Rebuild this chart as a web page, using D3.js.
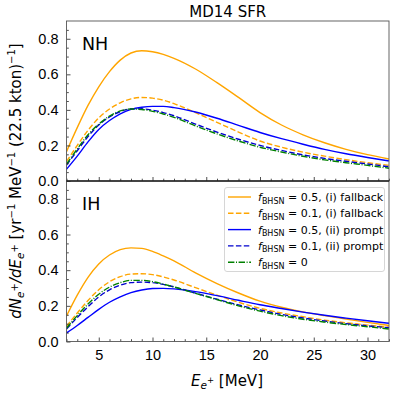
<!DOCTYPE html>
<html><head><meta charset="utf-8">
<script src="https://cdn.jsdelivr.net/npm/d3@7"></script>
<style>body{margin:0;background:#fff}svg{font-family:"DejaVu Sans",sans-serif}</style>
</head><body><svg id="c" width="395" height="396"></svg>
<script>
const energies = [2,3,4,5,6,7,8,9,10,11,12,14,16,18,20,22,24,26,28,30,32];
// NH panel series
const nhFallback05 = [0.165,0.3,0.425,0.53,0.615,0.68,0.72,0.733,0.727,0.712,0.69,0.63,0.553,0.47,0.385,0.315,0.26,0.215,0.178,0.148,0.124];
const nhFallback01 = [0.11,0.20,0.285,0.355,0.405,0.44,0.462,0.47,0.466,0.455,0.435,0.385,0.33,0.275,0.225,0.19,0.162,0.14,0.12,0.103,0.088];
const nhPrompt05   = [0.066,0.14,0.22,0.29,0.34,0.378,0.403,0.415,0.42,0.42,0.413,0.388,0.353,0.313,0.273,0.238,0.207,0.178,0.153,0.132,0.113];
const nhPrompt01   = [0.09,0.17,0.25,0.315,0.36,0.39,0.405,0.406,0.398,0.385,0.367,0.32,0.275,0.235,0.2,0.172,0.147,0.127,0.111,0.096,0.08];
const nhZero       = [0.095,0.18,0.26,0.32,0.365,0.394,0.405,0.402,0.392,0.377,0.358,0.31,0.265,0.225,0.19,0.163,0.139,0.119,0.103,0.088,0.072];
// IH panel series
const ihFallback05 = [0.143,0.26,0.36,0.435,0.485,0.515,0.525,0.522,0.505,0.48,0.452,0.385,0.325,0.272,0.226,0.192,0.166,0.145,0.126,0.107,0.09];
const ihFallback01 = [0.085,0.16,0.23,0.29,0.335,0.364,0.378,0.38,0.375,0.362,0.345,0.302,0.26,0.22,0.186,0.16,0.139,0.12,0.105,0.092,0.08];
const ihPrompt05   = [0.048,0.09,0.135,0.18,0.22,0.25,0.274,0.289,0.297,0.298,0.295,0.28,0.257,0.231,0.206,0.185,0.165,0.147,0.131,0.116,0.102];
const ihPrompt01   = [0.07,0.135,0.195,0.25,0.29,0.316,0.33,0.333,0.33,0.32,0.306,0.271,0.237,0.205,0.177,0.152,0.132,0.115,0.1,0.088,0.077];
const ihZero       = [0.075,0.145,0.21,0.265,0.305,0.33,0.343,0.343,0.336,0.322,0.306,0.27,0.235,0.2,0.17,0.145,0.125,0.109,0.095,0.083,0.07];

const xTicks = [5,10,15,20,25,30];
const yTicks = [0,0.2,0.4,0.6,0.8];
const legendLabels = ["0.5, (i) fallback","0.1, (i) fallback","0.5, (ii) prompt","0.1, (ii) prompt","0"];
const panels = [
  {name:"NH", series:[nhFallback05,nhFallback01,nhPrompt05,nhPrompt01,nhZero]},
  {name:"IH", series:[ihFallback05,ihFallback01,ihPrompt05,ihPrompt01,ihZero]}
];
const styles = [
  {color:"#ffa500", dash:null},
  {color:"#ffa500", dash:"5.5,2.4"},
  {color:"#0000ff", dash:null},
  {color:"#0000cd", dash:"5.5,2.4"},
  {color:"#008000", dash:"6.4,1.6,1,1.6"}
];

const svg = d3.select("#c");
const L = 66.5, R = 389, T = 21, M = 181, B = 341.5;
const x = d3.scaleLinear().domain([2,32]).range([L,R]);
const yRanges = [[M,T],[B,M]];

svg.append("text").attr("x",(L+R)/2).attr("y",17).attr("text-anchor","middle")
  .attr("font-size",15).text("MD14 SFR");

panels.forEach((p,i)=>{
  const y = d3.scaleLinear().domain([0,0.9]).range(yRanges[i]);
  const g = svg.append("g");
  g.append("defs").append("clipPath").attr("id","clip"+i).append("rect")
    .attr("x",L).attr("y",yRanges[i][1]).attr("width",R-L).attr("height",yRanges[i][0]-yRanges[i][1]);
  const line = d3.line().x((d,j)=>x(energies[j])).y(d=>y(d)).curve(d3.curveMonotoneX);
  p.series.forEach((s,k)=>{
    g.append("path").attr("d",line(s)).attr("fill","none")
      .attr("stroke",styles[k].color).attr("stroke-width",1.4)
      .attr("stroke-dasharray",styles[k].dash).attr("clip-path","url(#clip"+i+")");
  });
  const xa = d3.axisBottom(x).tickValues(xTicks).tickSizeInner(-4).tickSizeOuter(0)
    .tickFormat(i===1? d3.format("d") : "");
  const xg = g.append("g").attr("transform",`translate(0,${yRanges[i][0]})`).call(xa);
  xg.select(".domain").remove();
  xg.selectAll("text").attr("font-size",14.5).attr("fill","#000").attr("dy","1.05em").attr("y",3);
  const xm = d3.axisBottom(x).tickValues(d3.range(2,33,1).filter(v=>v%5!==0)).tickSizeInner(-2.3).tickSizeOuter(0).tickFormat("");
  const xmg = g.append("g").attr("transform",`translate(0,${yRanges[i][0]})`).call(xm);
  xmg.select(".domain").remove();
  const ya = d3.axisLeft(y).tickValues(yTicks).tickSizeInner(-4).tickSizeOuter(0).tickFormat(d3.format(".1f"));
  const yg = g.append("g").attr("transform",`translate(${L},0)`).call(ya);
  yg.select(".domain").remove();
  yg.selectAll("text").attr("font-size",14.5).attr("fill","#000").attr("x",-8);
  const ym = d3.axisLeft(y).tickValues(d3.range(0.05,0.9,0.05).filter((v,j)=>(j%4)!==3)).tickSizeInner(-2.3).tickSizeOuter(0).tickFormat("");
  const ymg = g.append("g").attr("transform",`translate(${L},0)`).call(ym);
  ymg.select(".domain").remove();
  g.selectAll(".tick line").attr("stroke","#222").attr("stroke-width",0.8);
  g.append("rect").attr("x",L).attr("y",yRanges[i][1]).attr("width",R-L).attr("height",yRanges[i][0]-yRanges[i][1])
    .attr("fill","none").attr("stroke","#555").attr("stroke-width",0.9);
  g.append("text").attr("x",82).attr("y",yRanges[i][1]+29).attr("font-size",17.5).text(p.name);
});
svg.append("line").attr("x1",L).attr("x2",R).attr("y1",M).attr("y2",M).attr("stroke","#000").attr("stroke-width",1.1);

const lg = svg.append("g");
lg.append("rect").attr("x",224.5).attr("y",187.5).attr("width",160).attr("height",84).attr("rx",2.5)
  .attr("fill","#fff").attr("fill-opacity",0.8).attr("stroke","#ccc").attr("stroke-width",0.8);
legendLabels.forEach((t,k)=>{
  const yy = 197 + k*16.3;
  lg.append("line").attr("x1",228).attr("x2",251).attr("y1",yy).attr("y2",yy)
    .attr("stroke",styles[k].color).attr("stroke-width",1.4).attr("stroke-dasharray",styles[k].dash);
  const tx = lg.append("text").attr("x",258).attr("y",yy+4).attr("font-size",11);
  tx.append("tspan").attr("font-style","italic").text("f");
  tx.append("tspan").attr("font-size",8).attr("dy",2.5).text("BHSN");
  tx.append("tspan").attr("dy",-2.5).text(" = " + t);
});

const xl = svg.append("text").attr("x",227).attr("y",386).attr("text-anchor","middle").attr("font-size",15);
xl.append("tspan").attr("font-style","italic").text("E");
xl.append("tspan").attr("font-style","italic").attr("font-size",10.5).attr("dy",3).text("e");
xl.append("tspan").attr("font-size",8.5).attr("dy",-6).text("+");
xl.append("tspan").attr("dy",3).text("  [MeV]");

const yl = svg.append("text").attr("transform","translate(21,181) rotate(-90)").attr("text-anchor","middle").attr("font-size",15);
const sub = (t)=>{ yl.append("tspan").attr("font-style","italic").attr("font-size",10.5).attr("dy",3).text(t); };
const sup = (t,dy)=>{ yl.append("tspan").attr("font-size",10).attr("dy",dy).text(t); };
const norm = (t,dy)=>{ yl.append("tspan").attr("dy",dy).text(t); };
yl.append("tspan").attr("font-style","italic").text("dN");
sub("e"); sup("+",-6);
yl.append("tspan").attr("font-style","italic").attr("dy",3).text("/dE");
sub("e"); sup("+",-6);
norm(" [yr",3); sup("−1",-6); norm(" MeV",6); sup("−1",-6); norm(" (22.5 kton)",6); sup("−1",-6); norm("]",6);
</script></body></html>
